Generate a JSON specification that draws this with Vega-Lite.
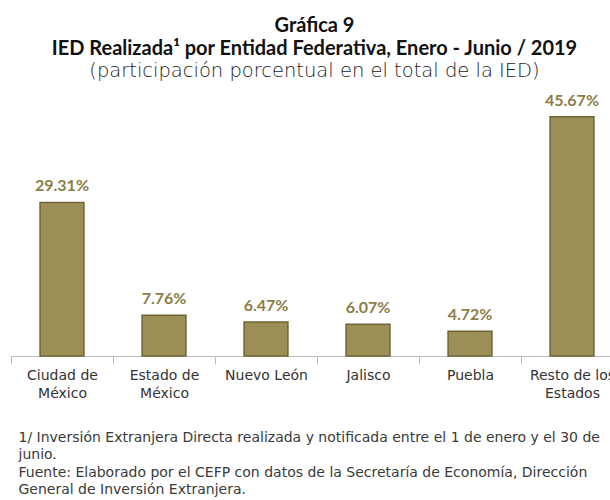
{
  "$schema": "https://vega.github.io/schema/vega-lite/v6.json",
  "autosize": {"type": "none"},
  "width": 599,
  "height": 262,
  "padding": {"left": 11, "top": 94, "right": 0, "bottom": 144},
  "background": "white",
  "title": {
    "text": ["Gráfica 9", "IED Realizada¹ por Entidad Federativa, Enero - Junio / 2019"],
    "subtitle": "(participación porcentual en el total de la IED)",
    "anchor": "middle",
    "dx": 4,
    "font": "Lato",
    "fontSize": 20,
    "fontWeight": "bold",
    "lineHeight": 23,
    "color": "#111111",
    "subtitleFont": "DejaVu Sans",
    "subtitleFontSize": 19.5,
    "subtitleFontWeight": 300,
    "subtitleColor": "#222222",
    "subtitlePadding": 3,
    "offset": 12
  },
  "data": {
    "values": [
      {"entidad": "Ciudad de|México", "valor": 29.31, "label": "29.31%"},
      {"entidad": "Estado de|México", "valor": 7.76, "label": "7.76%"},
      {"entidad": "Nuevo León", "valor": 6.47, "label": "6.47%"},
      {"entidad": "Jalisco", "valor": 6.07, "label": "6.07%"},
      {"entidad": "Puebla", "valor": 4.72, "label": "4.72%"},
      {"entidad": "Resto de los|Estados", "valor": 45.67, "label": "45.67%"}
    ]
  },
  "encoding": {
    "x": {
      "field": "entidad",
      "type": "nominal",
      "sort": null,
      "scale": {"type": "band", "range": [0, 612], "paddingInner": 0, "paddingOuter": 0},
      "axis": {
        "title": [
          "1/ Inversión Extranjera Directa realizada y notificada entre el 1 de enero y el 30 de",
          "junio.",
          "Fuente: Elaborado por el CEFP con datos de la Secretaría de Economía, Dirección",
          "General de Inversión Extranjera."
        ],
        "titleAnchor": "start",
        "titleAlign": "left",
        "titleX": 7,
        "titleY": 85,
        "titleBaseline": "alphabetic",
        "titleFont": "DejaVu Sans",
        "titleFontSize": 14,
        "titleFontWeight": "normal",
        "titleColor": "#3a3a3a",
        "titleLineHeight": 17.5,
        "labelAngle": 0,
        "labelFont": "DejaVu Sans",
        "labelFontSize": 14,
        "labelColor": "#333333",
        "labelPadding": 4,
        "labelBaseline": "top",
        "labelLineHeight": 18,
        "labelExpr": "split(datum.label, '|')",
        "tickBand": "extent",
        "tickSize": 8,
        "tickColor": "#bbbbbb",
        "domainColor": "#bbbbbb"
      }
    },
    "y": {
      "field": "valor",
      "type": "quantitative",
      "scale": {"domain": [0, 50]},
      "axis": null
    }
  },
  "layer": [
    {
      "mark": {"type": "bar", "width": {"band": 0.43}, "fill": "#9c8f55", "stroke": "#6e6438", "strokeWidth": 1.5}
    },
    {
      "mark": {"type": "text", "dy": -11, "baseline": "alphabetic", "font": "Lato", "fontWeight": "bold", "fontSize": 16, "color": "#8a7d47"},
      "encoding": {"text": {"field": "label"}}
    }
  ],
  "config": {"view": {"stroke": null}}
}
